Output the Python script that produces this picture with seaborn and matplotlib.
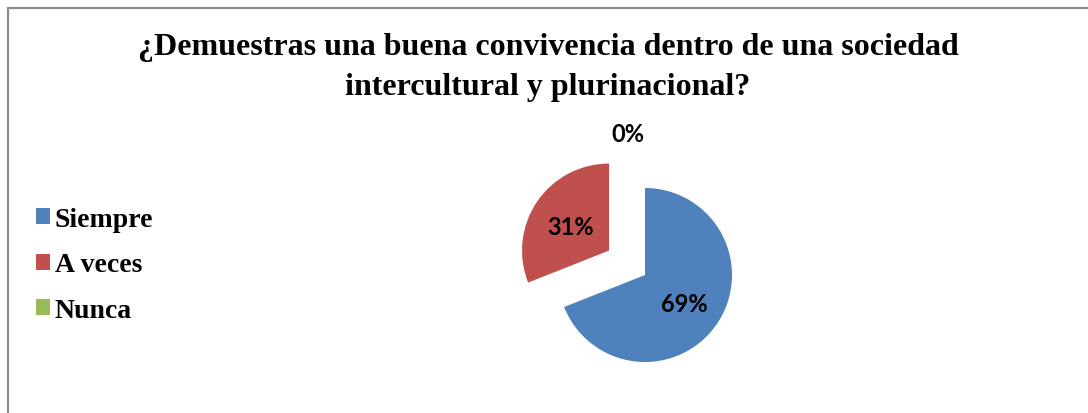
import matplotlib
matplotlib.use("Agg")
import matplotlib.pyplot as plt
import seaborn as sns
from matplotlib.lines import Line2D
from matplotlib.patches import Patch

sns.set_theme(style="white")
plt.rcParams["font.family"] = ["Liberation Serif", "DejaVu Serif"]
plt.rcParams["text.color"] = "black"

# Data
categories = ["Siempre", "A veces", "Nunca"]
percentages = [69, 31, 0]
colors = ["#4F81BD", "#C0504D", "#9BBB59"]
explode = [0, 0.5, 0]
title = "¿Demuestras una buena convivencia dentro de una sociedad\nintercultural y plurinacional?"

fig = plt.figure(figsize=(10.88, 4.14), dpi=100)

# Pie axes: 87 px per data unit, centre at (645, 276) px from top-left
r_px = 87
ax = fig.add_axes([445 / 1088, 0, 400 / 1088, 314 / 414])
wedges, texts, autotexts = ax.pie(
    percentages,
    colors=colors,
    explode=explode,
    startangle=90,
    counterclock=False,
    autopct=lambda p: f"{p:.0f}%",
    pctdistance=0.54,
    textprops=dict(fontfamily="Lato", fontweight="bold", fontsize=17, color="black"),
    wedgeprops=dict(linewidth=0),
)
for t in autotexts:
    t.set_verticalalignment("center_baseline")
# the empty slice label sits above the pie
autotexts[2].set_position((-0.2, 1.65))
ax.set_xlim(-200 / r_px, 200 / r_px)
ax.set_ylim(-138 / r_px, 176 / r_px)
ax.set_aspect("equal")
ax.axis("off")

# Title
fig.text(548 / 1088, 1 - 68 / 414, title, ha="center", va="center",
         fontsize=23, fontweight="bold", linespacing=1.5, color="black")

# Legend
handles = [Patch(facecolor=c, edgecolor="none") for c in colors]
leg = fig.legend(handles, categories, loc="center left", bbox_to_anchor=(36 / 1088, 1 - 266 / 414),
                 frameon=False, prop=dict(family="Liberation Serif", weight="bold", size=20),
                 handlelength=0.5, handleheight=0.5, handletextpad=0.18, labelspacing=0.74,
                 borderpad=0, borderaxespad=0)
for t in leg.get_texts():
    t.set_color("black")

# Outer frame (top and left edges visible)
fig.add_artist(Line2D([7.5 / 1088, 7.5 / 1088], [0, 1 - 8.5 / 414], color="#8c8c8c", lw=1.6))
fig.add_artist(Line2D([7.5 / 1088, 1], [1 - 8.5 / 414, 1 - 8.5 / 414], color="#8c8c8c", lw=1.6))

fig.savefig("out.png", dpi=100)
